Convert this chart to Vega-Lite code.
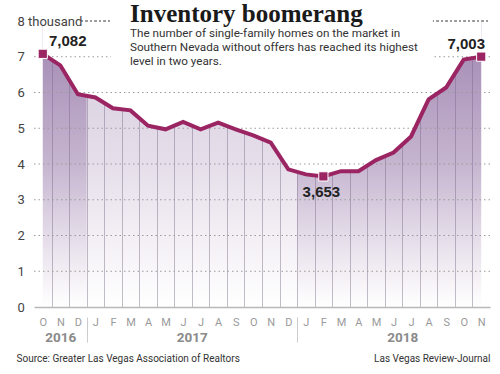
{
  "$schema": "https://vega.github.io/schema/vega-lite/v6.json",
  "width": 456,
  "height": 286,
  "autosize": {"type": "none"},
  "padding": {"left": 34, "top": 21, "right": 10, "bottom": 67},
  "background": "white",
  "config": {"view": {"stroke": null}, "font": "Roboto, sans-serif"},
  "title": {
    "text": "Inventory boomerang",
    "subtitle": ["The number of single-family homes on the market in", "Southern Nevada without offers has reached its highest", "level in two years."],
    "anchor": "start",
    "frame": "group",
    "orient": "top",
    "dx": 96,
    "dy": 53,
    "offset": 0,
    "font": "Liberation Serif",
    "fontSize": 25,
    "fontWeight": "bold",
    "color": "#1a1a1a",
    "subtitleFont": "Roboto, sans-serif",
    "subtitleFontSize": 11.7,
    "subtitleColor": "#333333",
    "subtitleLineHeight": 14,
    "subtitlePadding": 1,
    "zindex": 1
  },
  "datasets": {
    "inventory": [
      {"i": 0, "month": "2016-10", "year": 2016, "homes": 7082},
      {"i": 1, "month": "2016-11", "year": 2016, "homes": 6760},
      {"i": 2, "month": "2016-12", "year": 2016, "homes": 5950},
      {"i": 3, "month": "2017-01", "year": 2017, "homes": 5860},
      {"i": 4, "month": "2017-02", "year": 2017, "homes": 5560},
      {"i": 5, "month": "2017-03", "year": 2017, "homes": 5500},
      {"i": 6, "month": "2017-04", "year": 2017, "homes": 5070},
      {"i": 7, "month": "2017-05", "year": 2017, "homes": 4970},
      {"i": 8, "month": "2017-06", "year": 2017, "homes": 5180},
      {"i": 9, "month": "2017-07", "year": 2017, "homes": 4970},
      {"i": 10, "month": "2017-08", "year": 2017, "homes": 5160},
      {"i": 11, "month": "2017-09", "year": 2017, "homes": 4970},
      {"i": 12, "month": "2017-10", "year": 2017, "homes": 4800},
      {"i": 13, "month": "2017-11", "year": 2017, "homes": 4600},
      {"i": 14, "month": "2017-12", "year": 2017, "homes": 3850},
      {"i": 15, "month": "2018-01", "year": 2018, "homes": 3710},
      {"i": 16, "month": "2018-02", "year": 2018, "homes": 3653},
      {"i": 17, "month": "2018-03", "year": 2018, "homes": 3800},
      {"i": 18, "month": "2018-04", "year": 2018, "homes": 3800},
      {"i": 19, "month": "2018-05", "year": 2018, "homes": 4110},
      {"i": 20, "month": "2018-06", "year": 2018, "homes": 4320},
      {"i": 21, "month": "2018-07", "year": 2018, "homes": 4770},
      {"i": 22, "month": "2018-08", "year": 2018, "homes": 5810},
      {"i": 23, "month": "2018-09", "year": 2018, "homes": 6140},
      {"i": 24, "month": "2018-10", "year": 2018, "homes": 6920},
      {"i": 25, "month": "2018-11", "year": 2018, "homes": 7003}
    ],
    "gridlines": [{"v": 1000}, {"v": 2000}, {"v": 3000}, {"v": 4000}, {"v": 5000}, {"v": 6000}, {"v": 7000}]
  },
  "data": {"name": "inventory"},
  "resolve": {"axis": {"x": "independent", "y": "independent"}},
  "layer": [
    {
      "transform": [
        {"aggregate": [{"op": "min", "field": "i", "as": "i0"}, {"op": "max", "field": "i", "as": "i1"}], "groupby": ["year"]},
        {"calculate": "max(datum.i0 - 0.5, 0)", "as": "x0"},
        {"calculate": "min(datum.i1 + 0.5, 25)", "as": "x1"},
        {"filter": "datum.year != 2017"}
      ],
      "mark": {
        "type": "rect",
        "fill": {"gradient": "linear", "x1": 0, "y1": 0, "x2": 0, "y2": 1, "stops": [
          {"offset": 0, "color": "rgba(128,92,150,0.75)"},
          {"offset": 0.5, "color": "rgba(128,92,150,0.45)"},
          {"offset": 0.8, "color": "rgba(128,92,150,0.17)"},
          {"offset": 1, "color": "rgba(128,92,150,0)"}
        ]}
      },
      "encoding": {
        "x": {
          "field": "x0", "type": "quantitative",
          "scale": {"domain": [-0.5, 25.5], "nice": false, "zero": false},
          "axis": {
            "orient": "bottom",
            "values": [0, 0.5, 1, 1.5, 2, 2.5, 3, 3.5, 4, 4.5, 5, 5.5, 6, 6.5, 7, 7.5, 8, 8.5, 9, 9.5, 10, 10.5, 11, 11.5, 12, 12.5, 13, 13.5, 14, 14.5, 15, 15.5, 16, 16.5, 17, 17.5, 18, 18.5, 19, 19.5, 20, 20.5, 21, 21.5, 22, 22.5, 23, 23.5, 24, 24.5, 25],
            "labelExpr": "datum.value % 1 == 0 ? ['O','N','D','J','F','M','A','M','J','J','A','S'][datum.value % 12] : ''",
            "labelColor": "#9a9a9a",
            "labelFontSize": 11,
            "labelPadding": -26,
            "labelOverlap": false,
            "labelBound": false,
            "labelFlush": false,
            "domainColor": "#b8b8b8",
            "domainWidth": 1.5,
            "grid": true,
            "gridColor": {"condition": {"test": "datum.value % 1 == 0", "value": "transparent"}, "value": "#c2bec6"},
            "gridWidth": 1,
            "ticks": true,
            "tickSize": 35,
            "tickColor": "#cccccc",
            "tickWidth": 1,
            "tickDash": [0, 10, 25],
            "tickOpacity": {"condition": {"test": "datum.value == 2.5 || datum.value == 14.5", "value": 1}, "value": 0},
            "title": "Source:  Greater Las Vegas Association of Realtors",
            "titleAnchor": "start",
            "titleAlign": "left",
            "titleBaseline": "alphabetic",
            "titleX": -18,
            "titleY": 54,
            "titleFontSize": 10,
            "titleFontWeight": "normal",
            "titleColor": "#333333",
            "zindex": 0
          }
        },
        "x2": {"field": "x1"},
        "y": {"datum": 0, "type": "quantitative", "scale": {"domain": [0, 8000], "nice": false}, "axis": null},
        "y2": {"datum": 8000}
      }
    },
    {
      "transform": [
        {"aggregate": [{"op": "min", "field": "i", "as": "i0"}, {"op": "max", "field": "i", "as": "i1"}], "groupby": ["year"]},
        {"calculate": "max(datum.i0 - 0.5, 0)", "as": "x0"},
        {"calculate": "min(datum.i1 + 0.5, 25)", "as": "x1"},
        {"filter": "datum.year == 2017"}
      ],
      "mark": {
        "type": "rect",
        "fill": {"gradient": "linear", "x1": 0, "y1": 0, "x2": 0, "y2": 1, "stops": [
          {"offset": 0, "color": "rgba(128,92,150,0.33)"},
          {"offset": 0.5, "color": "rgba(128,92,150,0.2)"},
          {"offset": 0.8, "color": "rgba(128,92,150,0.08)"},
          {"offset": 1, "color": "rgba(128,92,150,0)"}
        ]}
      },
      "encoding": {
        "x": {"field": "x0", "type": "quantitative", "scale": {"domain": [-0.5, 25.5], "nice": false, "zero": false}, "axis": null},
        "x2": {"field": "x1"},
        "y": {"datum": 0, "type": "quantitative", "axis": null},
        "y2": {"datum": 8000}
      }
    },
    {
      "mark": {"type": "area", "fill": "white", "opacity": 1},
      "encoding": {
        "x": {"field": "i", "type": "quantitative", "scale": {"domain": [-0.5, 25.5], "nice": false, "zero": false}, "axis": null},
        "y": {"field": "homes", "type": "quantitative", "scale": {"domain": [0, 8000], "nice": false}, "axis": null},
        "y2": {"datum": 8000}
      }
    },
    {
      "data": {"name": "gridlines"},
      "mark": {"type": "rule", "color": "#9a9a9a", "strokeWidth": 1, "strokeDash": [1.5, 3]},
      "encoding": {
        "y": {"field": "v", "type": "quantitative", "scale": {"domain": [0, 8000], "nice": false}, "axis": null}
      }
    },
    {
      "mark": {"type": "rule", "color": "#9a9a9a", "strokeWidth": 1, "strokeDash": [1.5, 3]},
      "encoding": {
        "x": {"datum": 2.2, "type": "quantitative", "axis": null},
        "x2": {"datum": 25.5},
        "y": {"datum": 8000, "type": "quantitative", "axis": null}
      }
    },
    {
      "mark": {"type": "rect", "fill": "white"},
      "encoding": {
        "x": {"datum": 3.93, "type": "quantitative", "axis": null},
        "x2": {"datum": 22.2},
        "y": {"datum": 6720, "type": "quantitative", "axis": null},
        "y2": {"datum": 8100}
      }
    },
    {
      "mark": {"type": "line", "color": "#9b2463", "strokeWidth": 4},
      "encoding": {
        "x": {
          "field": "i", "type": "quantitative",
          "scale": {"domain": [-0.5, 25.5], "nice": false, "zero": false},
          "axis": {
            "orient": "bottom",
            "values": [1, 8.5, 20.5],
            "labelExpr": "datum.value == 1 ? '2016' : datum.value == 8.5 ? '2017' : '2018'",
            "labelFontWeight": "bold",
            "labelFontSize": 13.5,
            "labelColor": "#8a8a8a",
            "labelPadding": 23,
            "labelOverlap": false,
            "labelFlush": false,
            "labelBound": false,
            "ticks": false,
            "domain": false,
            "grid": false,
            "title": "Las Vegas Review-Journal",
            "titleAnchor": "end",
            "titleAlign": "right",
            "titleFontSize": 10,
            "titleFontWeight": "normal",
            "titleColor": "#333333",
            "titlePadding": 10,
            "zindex": 0
          }
        },
        "y": {
          "field": "homes", "type": "quantitative",
          "scale": {"domain": [0, 8000], "nice": false},
          "axis": {
            "orient": "left",
            "values": [0, 1000, 2000, 3000, 4000, 5000, 6000, 7000, 8000],
            "labelExpr": "datum.value == 8000 ? '8 thousand' : '' + datum.value / 1000",
            "labelAlign": "left",
            "labelBaseline": "middle",
            "labelPadding": 17,
            "labelFontSize": 13,
            "labelColor": "#444444",
            "labelOverlap": false,
            "labelBound": false,
            "labelFlush": false,
            "ticks": false,
            "domain": false,
            "grid": false,
            "title": null,
            "zindex": 1
          }
        }
      }
    },
    {
      "transform": [
        {"joinaggregate": [{"op": "min", "field": "homes", "as": "lo"}]},
        {"filter": "datum.i == 0 || datum.i == 25 || datum.homes == datum.lo"}
      ],
      "mark": {"type": "square", "size": 85, "fill": "#9b2463", "stroke": "white", "strokeWidth": 1, "opacity": 1},
      "encoding": {
        "x": {"field": "i", "type": "quantitative", "axis": null},
        "y": {"field": "homes", "type": "quantitative", "axis": null}
      }
    },
    {
      "transform": [{"filter": "datum.i == 0"}],
      "mark": {"type": "text", "font": "Liberation Sans", "fontSize": 15, "fontWeight": "bold", "color": "#222222", "dx": 25, "dy": -13},
      "encoding": {
        "x": {"field": "i", "type": "quantitative", "axis": null},
        "y": {"field": "homes", "type": "quantitative", "axis": null},
        "text": {"field": "homes", "type": "quantitative", "format": ","}
      }
    },
    {
      "transform": [
        {"joinaggregate": [{"op": "min", "field": "homes", "as": "lo"}]},
        {"filter": "datum.homes == datum.lo"}
      ],
      "mark": {"type": "text", "font": "Liberation Sans", "fontSize": 15, "fontWeight": "bold", "color": "#222222", "dx": -2, "dy": 16},
      "encoding": {
        "x": {"field": "i", "type": "quantitative", "axis": null},
        "y": {"field": "homes", "type": "quantitative", "axis": null},
        "text": {"field": "homes", "type": "quantitative", "format": ","}
      }
    },
    {
      "transform": [{"filter": "datum.i == 25"}],
      "mark": {"type": "text", "font": "Liberation Sans", "fontSize": 15, "fontWeight": "bold", "color": "#222222", "dx": -15, "dy": -13},
      "encoding": {
        "x": {"field": "i", "type": "quantitative", "axis": null},
        "y": {"field": "homes", "type": "quantitative", "axis": null},
        "text": {"field": "homes", "type": "quantitative", "format": ","}
      }
    }
  ]
}
